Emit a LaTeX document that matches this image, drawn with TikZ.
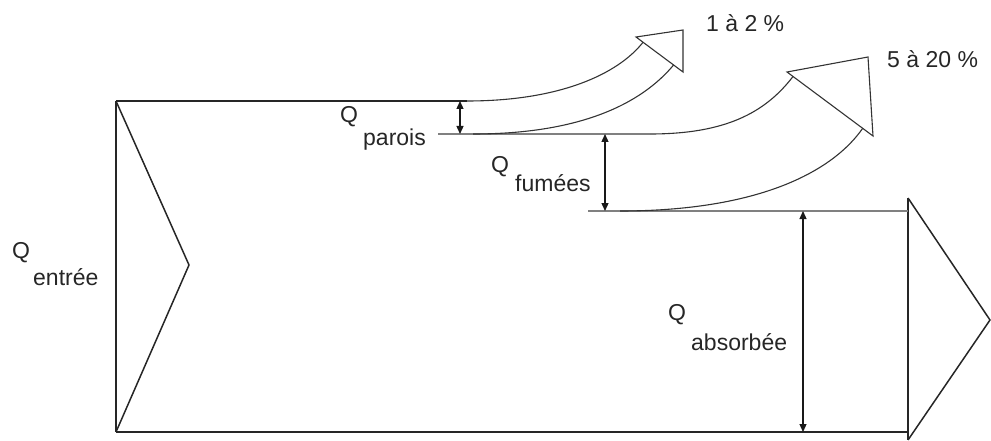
\documentclass[tikz,border=0pt]{standalone}
\usepackage{fontspec}
\setmainfont{Liberation Sans}
\usetikzlibrary{arrows.meta,calc}
\begin{document}
\begin{tikzpicture}[x=1pt,y=-1pt,
  edge/.style={line width=1.5pt, draw=black!85, line join=miter},
  flow/.style={line width=1.1pt, draw=black!80},
  grayline/.style={line width=1.6pt, draw=black!50},
  dim/.style={line width=1.3pt, draw=black!90, {Triangle[length=8pt,width=7pt]}-{Triangle[length=8pt,width=7pt]}},
  lbl/.style={font=\fontsize{23}{27}\selectfont, inner sep=0pt, anchor=base west, text=black!85}]
\useasboundingbox (0,0) rectangle (991,441);
% key points
\coordinate (inTL) at (116,101);
\coordinate (inBL) at (116,432);
\coordinate (inTip) at (189,265);
\coordinate (pTop) at (460,101);
\coordinate (pBot) at (460,134);
\coordinate (pStart) at (438,134);
\coordinate (c1o) at (467,101);
\coordinate (c1i) at (473,134);
\coordinate (c2o) at (650,134);
\coordinate (fTop) at (605,134);
\coordinate (fBot) at (605,211);
\coordinate (fStart) at (588,211);
\coordinate (c2i) at (620,211);
\coordinate (outT) at (908,198);
\coordinate (outB) at (908,440);
\coordinate (outTip) at (990,320);
\coordinate (outTop) at (908,211);
\coordinate (outBot) at (908,432);
\coordinate (aTop) at (803,211);
\coordinate (aBot) at (803,432);
% arrow heads
\coordinate (h1L) at (636,37);
\coordinate (h1T) at (683,30);
\coordinate (h1B) at (683,72);
\coordinate (h2L) at (787,72);
\coordinate (h2T) at (868,57);
\coordinate (h2B) at (873,136);
\coordinate (e1o) at ($(h1L)!0.15!(h1B)$);
\coordinate (e1i) at ($(h1L)!0.80!(h1B)$);
\coordinate (e2o) at ($(h2L)!0.07!(h2B)$);
\coordinate (e2i) at ($(h2L)!0.88!(h2B)$);

% input chevron and main outline
\draw[edge] (inTL) -- (inBL);
\draw[edge] (inTL) -- (inTip) -- (inBL);
\draw[edge] (inTL) -- (c1o);
\draw[edge] (inBL) -- (outBot);
% output chevron
\draw[edge] (outT) -- (outB);
\draw[edge] (outT) -- (outTip) -- (outB);
% intermediate lines
\draw[grayline] (pStart) -- (c2o);
\draw[grayline] (fStart) -- (outTop);
% flow curves
\draw[flow] (c1o) .. controls (560,101) and (618,74) .. (e1o);
\draw[flow] (c1i) .. controls (580,134) and (641,104) .. (e1i);
\draw[flow] (c2o) .. controls (725,134) and (765,113) .. (e2o);
\draw[flow] (c2i) .. controls (760,211) and (833,171) .. (e2i);
% arrow heads
\draw[flow, line join=miter] (h1L) -- (h1T) -- (h1B) -- cycle;
\draw[flow, line join=miter] (h2L) -- (h2T) -- (h2B) -- cycle;
% dimension arrows
\draw[dim] (pTop) -- (pBot);
\draw[dim] (fTop) -- (fBot);
\draw[dim] (aTop) -- (aBot);
% labels
\node[lbl] (t1) at (706,32) {1 à 2 \%};
\node[lbl] (t2) at (887,68) {5 à 20 \%};
\node[lbl] (qe) at (12,258) {Q};
\node[lbl] (se) at (33,285) {entrée};
\node[lbl] (qp) at (340,123) {Q};
\node[lbl] (sp) at (363,146) {parois};
\node[lbl] (qf) at (491,173) {Q};
\node[lbl] (sf) at (515,192) {fumées};
\node[lbl] (qa) at (668,320) {Q};
\node[lbl] (sa) at (691,350) {absorbée};
\end{tikzpicture}
\end{document}
